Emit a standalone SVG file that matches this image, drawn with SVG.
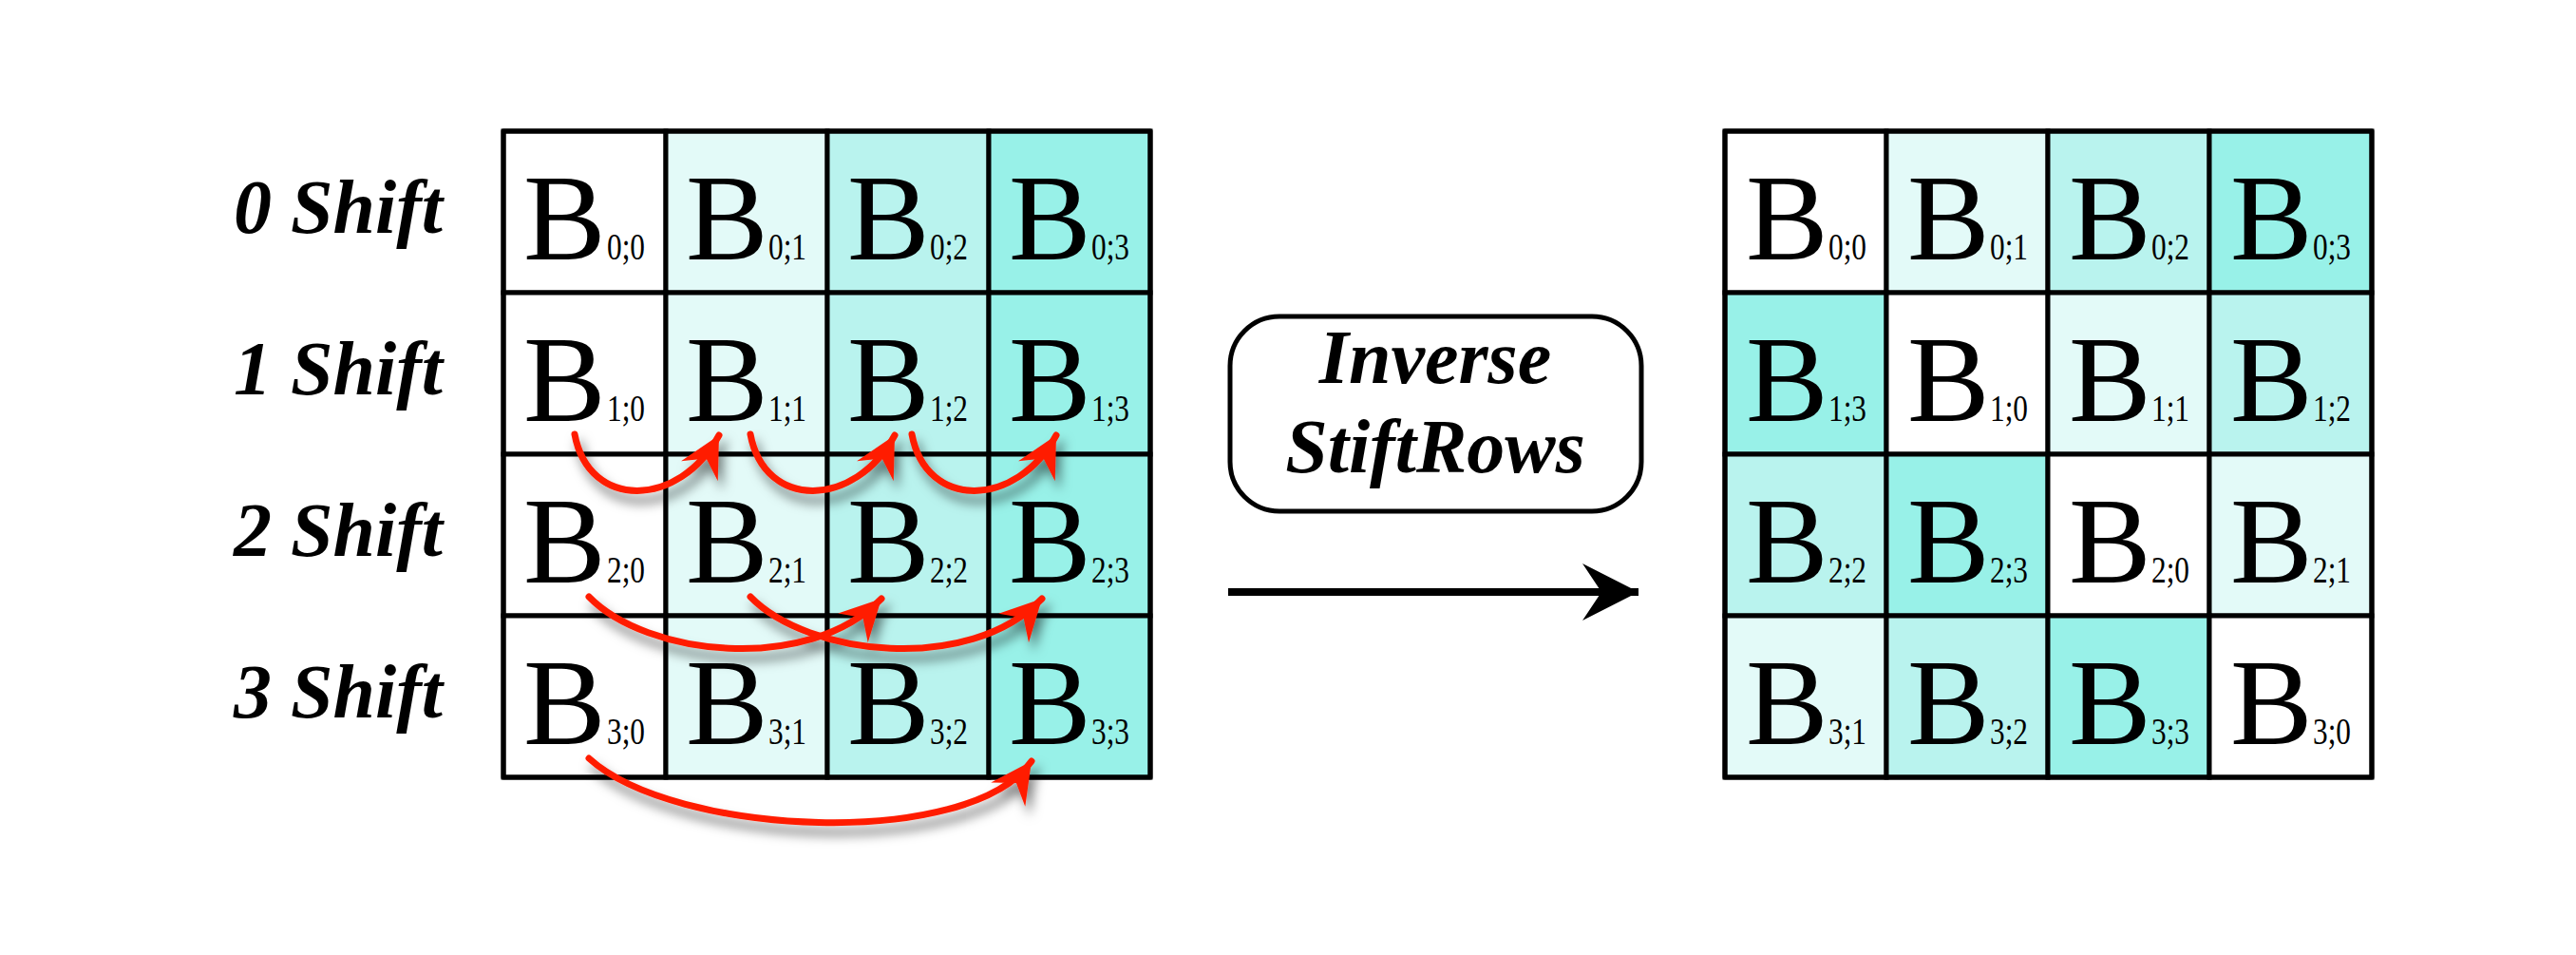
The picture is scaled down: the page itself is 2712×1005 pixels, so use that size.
<svg xmlns="http://www.w3.org/2000/svg" width="2712" height="1005" viewBox="0 0 2712 1005">
<defs>
<style>
.c0{fill:#ffffff}
.c1{fill:#e3faf8}
.c2{fill:#b9f3ee}
.c3{fill:#98f1e8}
.cell rect{stroke:#000;stroke-width:5}
.b{font-family:"Liberation Serif","Times New Roman",serif;font-size:130px;fill:#000}
.s{font-family:"Liberation Serif","Times New Roman",serif;font-size:40px;fill:#000}
.lbl{font-family:"Liberation Serif","Times New Roman",serif;font-size:80px;font-weight:bold;font-style:italic;fill:#000}
.red{fill:none;stroke:#ff1e00;stroke-width:7;stroke-linecap:round;marker-end:url(#rh)}
.frame{fill:none;stroke:#000;stroke-width:5;stroke-linejoin:round}
</style>
<marker id="rh" markerUnits="userSpaceOnUse" markerWidth="60" markerHeight="60" viewBox="-50 -30 60 60" refX="0" refY="0" orient="auto">
<path d="M0,0 L-43,-22 L-28,0 L-43,22 Z" fill="#ff1e00"/>
</marker>
<marker id="bh" markerUnits="userSpaceOnUse" markerWidth="80" markerHeight="80" viewBox="-70 -40 80 80" refX="0" refY="0" orient="auto">
<path d="M0,0 L-59,-30 L-39,0 L-59,30 Z" fill="#000"/>
</marker>
<filter id="sh" x="-20%" y="-20%" width="140%" height="160%">
<feDropShadow dx="5" dy="10" stdDeviation="6" flood-color="#000" flood-opacity="0.5"/>
</filter>
</defs>
<rect width="2712" height="1005" fill="#fff"/>

<g id="row-labels">
<text class="lbl" x="466" y="245" text-anchor="end">0 Shift</text>
<text class="lbl" x="466" y="415" text-anchor="end">1 Shift</text>
<text class="lbl" x="466" y="585" text-anchor="end">2 Shift</text>
<text class="lbl" x="466" y="755" text-anchor="end">3 Shift</text>
</g>

<g id="left-grid">
<g id="L00" class="cell"><rect class="c0" x="530" y="138" width="171" height="170"/><text class="b" x="551" y="273">B</text><text class="s" x="639" y="273" textLength="40" lengthAdjust="spacingAndGlyphs">0;0</text></g>
<g id="L01" class="cell"><rect class="c1" x="701" y="138" width="170" height="170"/><text class="b" x="722" y="273">B</text><text class="s" x="809" y="273" textLength="40" lengthAdjust="spacingAndGlyphs">0;1</text></g>
<g id="L02" class="cell"><rect class="c2" x="871" y="138" width="170" height="170"/><text class="b" x="892" y="273">B</text><text class="s" x="979" y="273" textLength="40" lengthAdjust="spacingAndGlyphs">0;2</text></g>
<g id="L03" class="cell"><rect class="c3" x="1041" y="138" width="170" height="170"/><text class="b" x="1062" y="273">B</text><text class="s" x="1149" y="273" textLength="40" lengthAdjust="spacingAndGlyphs">0;3</text></g>

<g id="L10" class="cell"><rect class="c0" x="530" y="308" width="171" height="170"/><text class="b" x="551" y="443">B</text><text class="s" x="639" y="443" textLength="40" lengthAdjust="spacingAndGlyphs">1;0</text></g>
<g id="L11" class="cell"><rect class="c1" x="701" y="308" width="170" height="170"/><text class="b" x="722" y="443">B</text><text class="s" x="809" y="443" textLength="40" lengthAdjust="spacingAndGlyphs">1;1</text></g>
<g id="L12" class="cell"><rect class="c2" x="871" y="308" width="170" height="170"/><text class="b" x="892" y="443">B</text><text class="s" x="979" y="443" textLength="40" lengthAdjust="spacingAndGlyphs">1;2</text></g>
<g id="L13" class="cell"><rect class="c3" x="1041" y="308" width="170" height="170"/><text class="b" x="1062" y="443">B</text><text class="s" x="1149" y="443" textLength="40" lengthAdjust="spacingAndGlyphs">1;3</text></g>

<g id="L20" class="cell"><rect class="c0" x="530" y="478" width="171" height="170"/><text class="b" x="551" y="613">B</text><text class="s" x="639" y="613" textLength="40" lengthAdjust="spacingAndGlyphs">2;0</text></g>
<g id="L21" class="cell"><rect class="c1" x="701" y="478" width="170" height="170"/><text class="b" x="722" y="613">B</text><text class="s" x="809" y="613" textLength="40" lengthAdjust="spacingAndGlyphs">2;1</text></g>
<g id="L22" class="cell"><rect class="c2" x="871" y="478" width="170" height="170"/><text class="b" x="892" y="613">B</text><text class="s" x="979" y="613" textLength="40" lengthAdjust="spacingAndGlyphs">2;2</text></g>
<g id="L23" class="cell"><rect class="c3" x="1041" y="478" width="170" height="170"/><text class="b" x="1062" y="613">B</text><text class="s" x="1149" y="613" textLength="40" lengthAdjust="spacingAndGlyphs">2;3</text></g>

<g id="L30" class="cell"><rect class="c0" x="530" y="648" width="171" height="170"/><text class="b" x="551" y="783">B</text><text class="s" x="639" y="783" textLength="40" lengthAdjust="spacingAndGlyphs">3;0</text></g>
<g id="L31" class="cell"><rect class="c1" x="701" y="648" width="170" height="170"/><text class="b" x="722" y="783">B</text><text class="s" x="809" y="783" textLength="40" lengthAdjust="spacingAndGlyphs">3;1</text></g>
<g id="L32" class="cell"><rect class="c2" x="871" y="648" width="170" height="170"/><text class="b" x="892" y="783">B</text><text class="s" x="979" y="783" textLength="40" lengthAdjust="spacingAndGlyphs">3;2</text></g>
<g id="L33" class="cell"><rect class="c3" x="1041" y="648" width="170" height="170"/><text class="b" x="1062" y="783">B</text><text class="s" x="1149" y="783" textLength="40" lengthAdjust="spacingAndGlyphs">3;3</text></g>
<rect class="frame" x="530" y="138" width="681" height="680"/>
</g>

<g id="right-grid">
<g id="R00" class="cell"><rect class="c0" x="1816" y="138" width="170" height="170"/><text class="b" x="1838" y="273">B</text><text class="s" x="1925" y="273" textLength="40" lengthAdjust="spacingAndGlyphs">0;0</text></g>
<g id="R01" class="cell"><rect class="c1" x="1986" y="138" width="170" height="170"/><text class="b" x="2008" y="273">B</text><text class="s" x="2095" y="273" textLength="40" lengthAdjust="spacingAndGlyphs">0;1</text></g>
<g id="R02" class="cell"><rect class="c2" x="2156" y="138" width="170" height="170"/><text class="b" x="2178" y="273">B</text><text class="s" x="2265" y="273" textLength="40" lengthAdjust="spacingAndGlyphs">0;2</text></g>
<g id="R03" class="cell"><rect class="c3" x="2326" y="138" width="171" height="170"/><text class="b" x="2348" y="273">B</text><text class="s" x="2435" y="273" textLength="40" lengthAdjust="spacingAndGlyphs">0;3</text></g>

<g id="R10" class="cell"><rect class="c3" x="1816" y="308" width="170" height="170"/><text class="b" x="1838" y="443">B</text><text class="s" x="1925" y="443" textLength="40" lengthAdjust="spacingAndGlyphs">1;3</text></g>
<g id="R11" class="cell"><rect class="c0" x="1986" y="308" width="170" height="170"/><text class="b" x="2008" y="443">B</text><text class="s" x="2095" y="443" textLength="40" lengthAdjust="spacingAndGlyphs">1;0</text></g>
<g id="R12" class="cell"><rect class="c1" x="2156" y="308" width="170" height="170"/><text class="b" x="2178" y="443">B</text><text class="s" x="2265" y="443" textLength="40" lengthAdjust="spacingAndGlyphs">1;1</text></g>
<g id="R13" class="cell"><rect class="c2" x="2326" y="308" width="171" height="170"/><text class="b" x="2348" y="443">B</text><text class="s" x="2435" y="443" textLength="40" lengthAdjust="spacingAndGlyphs">1;2</text></g>

<g id="R20" class="cell"><rect class="c2" x="1816" y="478" width="170" height="170"/><text class="b" x="1838" y="613">B</text><text class="s" x="1925" y="613" textLength="40" lengthAdjust="spacingAndGlyphs">2;2</text></g>
<g id="R21" class="cell"><rect class="c3" x="1986" y="478" width="170" height="170"/><text class="b" x="2008" y="613">B</text><text class="s" x="2095" y="613" textLength="40" lengthAdjust="spacingAndGlyphs">2;3</text></g>
<g id="R22" class="cell"><rect class="c0" x="2156" y="478" width="170" height="170"/><text class="b" x="2178" y="613">B</text><text class="s" x="2265" y="613" textLength="40" lengthAdjust="spacingAndGlyphs">2;0</text></g>
<g id="R23" class="cell"><rect class="c1" x="2326" y="478" width="171" height="170"/><text class="b" x="2348" y="613">B</text><text class="s" x="2435" y="613" textLength="40" lengthAdjust="spacingAndGlyphs">2;1</text></g>

<g id="R30" class="cell"><rect class="c1" x="1816" y="648" width="170" height="170"/><text class="b" x="1838" y="783">B</text><text class="s" x="1925" y="783" textLength="40" lengthAdjust="spacingAndGlyphs">3;1</text></g>
<g id="R31" class="cell"><rect class="c2" x="1986" y="648" width="170" height="170"/><text class="b" x="2008" y="783">B</text><text class="s" x="2095" y="783" textLength="40" lengthAdjust="spacingAndGlyphs">3;2</text></g>
<g id="R32" class="cell"><rect class="c3" x="2156" y="648" width="170" height="170"/><text class="b" x="2178" y="783">B</text><text class="s" x="2265" y="783" textLength="40" lengthAdjust="spacingAndGlyphs">3;3</text></g>
<g id="R33" class="cell"><rect class="c0" x="2326" y="648" width="171" height="170"/><text class="b" x="2348" y="783">B</text><text class="s" x="2435" y="783" textLength="40" lengthAdjust="spacingAndGlyphs">3;0</text></g>
<rect class="frame" x="1816" y="138" width="681" height="680"/>
</g>

<g id="op-box">
<rect x="1295" y="333" width="433" height="205" rx="52" ry="52" fill="#fff" stroke="#000" stroke-width="5"/>
<text class="lbl" x="1511" y="403" text-anchor="middle">Inverse</text>
<text class="lbl" x="1511" y="497" text-anchor="middle">StiftRows</text>
</g>

<g id="connectors">
<g filter="url(#sh)">
<path class="red" d="M605,457 C620,537 715,535 757,458"/>
<path class="red" d="M790,457 C805,537 900,535 942,458"/>
<path class="red" d="M960,457 C975,537 1070,535 1112,458"/>
<path class="red" d="M620,628 C680,690 850,710 928,630"/>
<path class="red" d="M790,628 C850,690 1020,710 1097,630"/>
<path class="red" d="M620,798 C710,880 1020,895 1086,801"/>
</g>
<path d="M1293,623 L1725,623" stroke="#000" stroke-width="8" fill="none" marker-end="url(#bh)"/>
</g>
</svg>
